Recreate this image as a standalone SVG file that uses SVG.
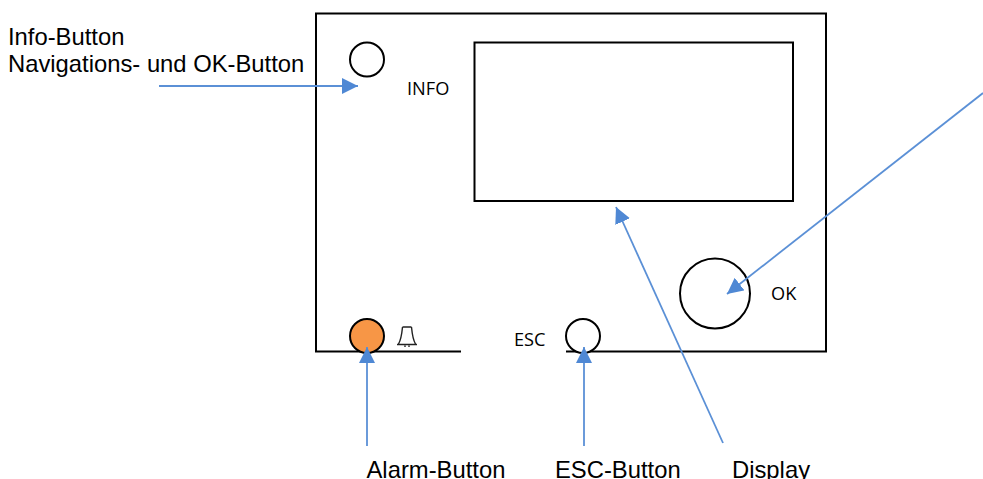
<svg xmlns="http://www.w3.org/2000/svg" width="983" height="479" viewBox="0 0 983 479">
<style>
.s{fill:none;stroke:#000;stroke-width:2}
.c{fill:#fff;stroke:#000;stroke-width:2}
.a{fill:none;stroke:#5b90d6;stroke-width:1.800;marker-end:url(#h)}
.t{font-family:"Liberation Sans",Arial,sans-serif;font-size:23.800px;fill:#000}
.l{font-family:"Open Sans",sans-serif;font-size:18.200px;fill:#000}
</style>
<defs><marker id="h" viewBox="0 0 16 16" refX="16" refY="8" markerWidth="16" markerHeight="16" markerUnits="userSpaceOnUse" orient="auto"><path d="M0 0L16 8L0 16z" fill="#4f88d4"/></marker></defs>
<rect width="983" height="479" fill="#fff"/>
<g id="housing"><path class="s" d="M461 351.500H316V13.500H826V351.500H566"/></g>
<g id="display"><rect class="s" x="474.500" y="42.500" width="318.500" height="158.500"/></g>
<g id="info-button"><circle class="c" cx="367" cy="59.500" r="17"/><text class="l" x="407" y="95">INFO</text></g>
<g id="alarm-button"><circle cx="367" cy="336" r="17" fill="#f79646" stroke="#000" stroke-width="2"/><path d="M397 344.500H417M398.500 344C401.500 339 402 332 402.500 327M415.500 344C412.500 339 412 332 411.500 327M402.500 327H411.500M405 345.500V347M409 345.500V347" fill="none" stroke="#222" stroke-width="1.400"/></g>
<g id="esc-button"><circle class="c" cx="583" cy="336" r="17"/><text class="l" x="514" y="346">ESC</text></g>
<g id="ok-button"><circle class="c" cx="715" cy="293.500" r="35"/><text class="l" x="771" y="300">OK</text></g>
<g id="connectors">
<path class="a" d="M159 86H358"/>
<path class="a" d="M367 446V347"/>
<path class="a" d="M584 446V347"/>
<path class="a" d="M723 443L616 207"/>
<path class="a" d="M983 93L727 294"/>
</g>
<g id="labels">
<text class="t" x="8" y="45">Info-Button</text>
<text class="t" x="8" y="72">Navigations- und OK-Button</text>
<text class="t" x="366.500" y="478">Alarm-Button</text>
<text class="t" x="555" y="478">ESC-Button</text>
<text class="t" x="732" y="478">Display</text>
</g>
</svg>
